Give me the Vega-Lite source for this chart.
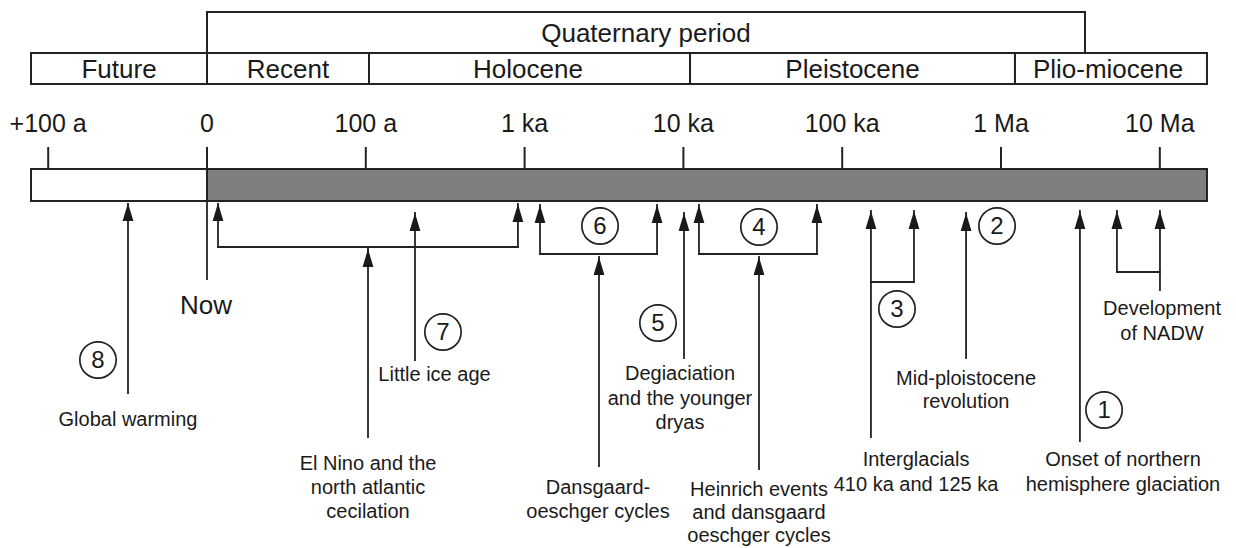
{
  "$schema": "https://vega.github.io/schema/vega-lite/v6.json",
  "width": 1236,
  "height": 548,
  "autosize": {"type": "none"},
  "padding": 0,
  "background": "white",
  "config": {"view": {"stroke": null}, "font": "Liberation Sans"},
  "datasets": {
    "boxes": [
      {"name": "Quaternary period", "x": 0, "x2": 5.529, "y": 12, "y2": 53},
      {"name": "Future", "x": -1.1083, "x2": 0, "y": 53, "y2": 84},
      {"name": "Recent", "x": 0, "x2": 1.0202, "y": 53, "y2": 84},
      {"name": "Holocene", "x": 1.0202, "x2": 3.0416, "y": 53, "y2": 84},
      {"name": "Pleistocene", "x": 3.0416, "x2": 5.088, "y": 53, "y2": 84},
      {"name": "Plio-miocene", "x": 5.088, "x2": 6.297, "y": 53, "y2": 84}
    ],
    "bigLabels": [
      {"label": "Quaternary period", "x": 2.7645, "y": 41.5},
      {"label": "Future", "x": -0.554, "y": 77.5},
      {"label": "Recent", "x": 0.51, "y": 77.5},
      {"label": "Holocene", "x": 2.021, "y": 77.5},
      {"label": "Pleistocene", "x": 4.065, "y": 77.5},
      {"label": "Plio-miocene", "x": 5.674, "y": 77.5},
      {"label": "Now", "x": -0.006, "y": 314}
    ],
    "ticks": [
      {"label": "+100 a", "x": -1},
      {"label": "0", "x": 0},
      {"label": "100 a", "x": 1},
      {"label": "1 ka", "x": 2},
      {"label": "10 ka", "x": 3},
      {"label": "100 ka", "x": 4},
      {"label": "1 Ma", "x": 5},
      {"label": "10 Ma", "x": 6}
    ],
    "bar": [
      {"era": "future", "x": -1.1083, "x2": 0},
      {"era": "past", "x": 0, "x2": 6.297}
    ],
    "segments": [
      {"x": -0.4975, "x2": -0.4975, "y": 204, "y2": 393},
      {"x": 0, "x2": 0, "y": 201, "y2": 279},
      {"x": 0.0693, "x2": 0.0693, "y": 204, "y2": 247},
      {"x": 0.0693, "x2": 1.958, "y": 247, "y2": 247},
      {"x": 1.958, "x2": 1.958, "y": 204, "y2": 247},
      {"x": 1.0139, "x2": 1.0139, "y": 249, "y2": 437},
      {"x": 1.3098, "x2": 1.3098, "y": 213, "y2": 360},
      {"x": 2.097, "x2": 2.097, "y": 205, "y2": 254},
      {"x": 2.097, "x2": 2.834, "y": 254, "y2": 254},
      {"x": 2.834, "x2": 2.834, "y": 205, "y2": 254},
      {"x": 2.4685, "x2": 2.4685, "y": 257, "y2": 466},
      {"x": 3.0038, "x2": 3.0038, "y": 213, "y2": 358},
      {"x": 3.098, "x2": 3.098, "y": 205, "y2": 254},
      {"x": 3.098, "x2": 3.841, "y": 254, "y2": 254},
      {"x": 3.841, "x2": 3.841, "y": 205, "y2": 254},
      {"x": 3.476, "x2": 3.476, "y": 257, "y2": 469},
      {"x": 4.181, "x2": 4.181, "y": 211, "y2": 437},
      {"x": 4.452, "x2": 4.452, "y": 211, "y2": 282},
      {"x": 4.181, "x2": 4.452, "y": 282, "y2": 282},
      {"x": 4.78, "x2": 4.78, "y": 213, "y2": 358},
      {"x": 5.497, "x2": 5.497, "y": 211, "y2": 441},
      {"x": 5.73, "x2": 5.73, "y": 211, "y2": 272},
      {"x": 5.73, "x2": 6.001, "y": 272, "y2": 272},
      {"x": 6.001, "x2": 6.001, "y": 211, "y2": 290}
    ],
    "heads": [
      {"x": -0.4975, "y": 203},
      {"x": 0.0693, "y": 203},
      {"x": 1.958, "y": 204},
      {"x": 1.0139, "y": 249},
      {"x": 1.3098, "y": 213},
      {"x": 2.097, "y": 205},
      {"x": 2.834, "y": 205},
      {"x": 2.4685, "y": 257},
      {"x": 3.0038, "y": 213},
      {"x": 3.098, "y": 205},
      {"x": 3.841, "y": 205},
      {"x": 3.476, "y": 257},
      {"x": 4.181, "y": 211},
      {"x": 4.452, "y": 211},
      {"x": 4.78, "y": 213},
      {"x": 5.497, "y": 211},
      {"x": 5.73, "y": 211},
      {"x": 6.001, "y": 211}
    ],
    "circles": [
      {"n": "8", "x": -0.6864, "y": 360},
      {"n": "7", "x": 1.486, "y": 332},
      {"n": "6", "x": 2.475, "y": 226},
      {"n": "5", "x": 2.84, "y": 323},
      {"n": "4", "x": 3.476, "y": 227},
      {"n": "3", "x": 4.345, "y": 309},
      {"n": "2", "x": 4.975, "y": 226},
      {"n": "1", "x": 5.649, "y": 410}
    ],
    "notes": [
      {"label": "Global warming", "x": -0.4975, "y": 420},
      {"label": "El Nino and the", "x": 1.0139, "y": 464},
      {"label": "north atlantic", "x": 1.0139, "y": 488},
      {"label": "cecilation", "x": 1.0139, "y": 512},
      {"label": "Little ice age", "x": 1.4326, "y": 375},
      {"label": "Dansgaard-", "x": 2.4622, "y": 488},
      {"label": "oeschger cycles", "x": 2.4622, "y": 512},
      {"label": "Degiaciation", "x": 2.9786, "y": 374},
      {"label": "and the younger", "x": 2.9786, "y": 399},
      {"label": "dryas", "x": 2.9786, "y": 423},
      {"label": "Heinrich events", "x": 3.476, "y": 490},
      {"label": "and dansgaard", "x": 3.476, "y": 513},
      {"label": "oeschger cycles", "x": 3.476, "y": 536},
      {"label": "Interglacials", "x": 4.465, "y": 460},
      {"label": "410 ka and 125 ka", "x": 4.465, "y": 485},
      {"label": "Mid-ploistocene", "x": 4.78, "y": 379},
      {"label": "revolution", "x": 4.78, "y": 402},
      {"label": "Onset of northern", "x": 5.768, "y": 460},
      {"label": "hemisphere glaciation", "x": 5.768, "y": 485},
      {"label": "Development", "x": 6.014, "y": 309},
      {"label": "of NADW", "x": 6.014, "y": 334}
    ]
  },
  "layer": [
    {
      "data": {"name": "boxes"},
      "mark": {"type": "rect", "fill": "white", "stroke": "#222222", "strokeWidth": 2},
      "encoding": {
        "x": {"field": "x", "type": "quantitative", "scale": {"domain": [-1.3035, 6.4798], "nice": false, "zero": false}, "axis": null},
        "x2": {"field": "x2"},
        "y": {"field": "y", "type": "quantitative", "scale": {"domain": [0, 548], "nice": false, "zero": false, "reverse": true}, "axis": null},
        "y2": {"field": "y2"}
      }
    },
    {
      "data": {"name": "bigLabels"},
      "mark": {"type": "text", "fontSize": 26, "baseline": "alphabetic", "align": "center", "color": "#1a1a1a"},
      "encoding": {
        "x": {"field": "x", "type": "quantitative", "axis": null},
        "y": {"field": "y", "type": "quantitative", "axis": null},
        "text": {"field": "label", "type": "nominal"}
      }
    },
    {
      "data": {"name": "ticks"},
      "mark": {"type": "rule", "stroke": "#222222", "strokeWidth": 2},
      "encoding": {
        "x": {"field": "x", "type": "quantitative", "axis": null},
        "y": {"datum": 147, "type": "quantitative", "axis": null},
        "y2": {"datum": 169}
      }
    },
    {
      "data": {"name": "ticks"},
      "mark": {"type": "text", "fontSize": 25, "baseline": "alphabetic", "align": "center", "color": "#1a1a1a"},
      "encoding": {
        "x": {"field": "x", "type": "quantitative", "axis": null},
        "y": {"datum": 132, "type": "quantitative", "axis": null},
        "text": {"field": "label", "type": "nominal"}
      }
    },
    {
      "data": {"name": "bar"},
      "mark": {"type": "rect", "stroke": "#222222", "strokeWidth": 2},
      "encoding": {
        "x": {"field": "x", "type": "quantitative", "axis": null},
        "x2": {"field": "x2"},
        "y": {"datum": 169, "type": "quantitative", "axis": null},
        "y2": {"datum": 201},
        "fill": {"field": "era", "type": "nominal", "scale": {"domain": ["future", "past"], "range": ["#ffffff", "#7f7f7f"]}, "legend": null}
      }
    },
    {
      "data": {"name": "segments"},
      "mark": {"type": "rule", "stroke": "#222222", "strokeWidth": 1.8, "strokeCap": "square"},
      "encoding": {
        "x": {"field": "x", "type": "quantitative", "axis": null},
        "x2": {"field": "x2"},
        "y": {"field": "y", "type": "quantitative", "axis": null},
        "y2": {"field": "y2"}
      }
    },
    {
      "data": {"name": "heads"},
      "mark": {"type": "point", "shape": "M0,0L0.6,2L-0.6,2Z", "size": 324, "filled": true, "fill": "#1a1a1a", "strokeWidth": 0, "opacity": 1},
      "encoding": {
        "x": {"field": "x", "type": "quantitative", "axis": null},
        "y": {"field": "y", "type": "quantitative", "axis": null}
      }
    },
    {
      "data": {"name": "circles"},
      "mark": {"type": "point", "shape": "circle", "size": 1320, "filled": false, "stroke": "#222222", "strokeWidth": 1.7, "opacity": 1},
      "encoding": {
        "x": {"field": "x", "type": "quantitative", "axis": null},
        "y": {"field": "y", "type": "quantitative", "axis": null}
      }
    },
    {
      "data": {"name": "circles"},
      "mark": {"type": "text", "fontSize": 24, "baseline": "middle", "align": "center", "dy": 1, "color": "#1a1a1a"},
      "encoding": {
        "x": {"field": "x", "type": "quantitative", "axis": null},
        "y": {"field": "y", "type": "quantitative", "axis": null},
        "text": {"field": "n", "type": "nominal"}
      }
    },
    {
      "data": {"name": "notes"},
      "mark": {"type": "text", "fontSize": 20, "baseline": "middle", "align": "center", "color": "#1a1a1a"},
      "encoding": {
        "x": {"field": "x", "type": "quantitative", "axis": null},
        "y": {"field": "y", "type": "quantitative", "axis": null},
        "text": {"field": "label", "type": "nominal"}
      }
    }
  ]
}
